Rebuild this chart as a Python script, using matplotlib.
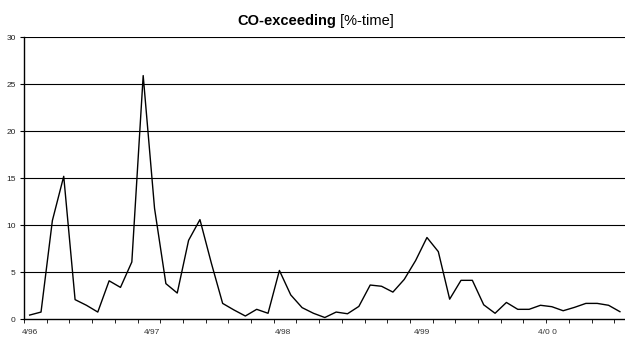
import numpy as np
import matplotlib.pyplot as plt

# CO exceeding, percent of time, one value per period
co_values = [0.46, 0.78, 10.5, 15.2, 2.1, 1.5, 0.78, 4.1, 3.4, 6.1,
             25.9, 11.8, 3.8, 2.8, 8.4, 10.6, 6.0, 1.7, 1.0, 0.36,
             1.07, 0.65, 5.2, 2.6, 1.25, 0.65, 0.2, 0.78, 0.6, 1.38,
             3.65, 3.52, 2.9, 4.25, 6.25, 8.7, 7.2, 2.15, 4.15, 4.15,
             1.55, 0.65, 1.8, 1.07, 1.07, 1.5, 1.35, 0.92, 1.28, 1.7,
             1.7, 1.5, 0.82]
label_text = ['4/96', '4/97', '4/98', '4/99', '4/0 0']
label_idx = [0, 10.8, 22.3, 34.6, 45.6]
y_ticks = [0, 5, 10, 15, 20, 25, 30]

plt.rcParams['font.family'] = ['Liberation Sans', 'DejaVu Sans']

fig = plt.figure(figsize=(6.25, 3.38), dpi=100)
ax = fig.add_axes([24 / 625, 18.6 / 338, 601.6 / 625, 282.4 / 338])

n = len(co_values)
x = np.arange(n)
ax.plot(x, co_values, color='black', lw=1.0, zorder=3)

ax.set_xlim(-0.5, n - 0.5)
ax.set_ylim(0, 30)

# horizontal gridlines
for v in y_ticks[1:]:
    ax.axhline(v, color='black', lw=0.8, zorder=1)

ax.set_yticks(y_ticks)
ax.set_yticklabels([str(v) for v in y_ticks], fontsize=6, color='#222222')
ax.tick_params(axis='y', direction='out', length=3, width=0.8, pad=3)

# tick marks at category boundaries, every second category
ax.set_xticks(np.arange(-0.5, n, 2))
ax.set_xticklabels([])
ax.tick_params(axis='x', which='major', direction='out', length=3, width=0.6)
ax.set_xticks(label_idx, minor=True)
ax.set_xticklabels(label_text, minor=True, fontsize=6, color='#333333')
ax.tick_params(axis='x', which='minor', length=0, pad=7)

for side in ['top', 'right']:
    ax.spines[side].set_visible(False)
ax.spines['left'].set_linewidth(1.0)
ax.spines['bottom'].set_linewidth(1.0)

fig.text(0.538, 0.938, 'CO-exceeding', fontsize=10.5, fontweight='bold',
         ha='right', va='center')
fig.text(0.538, 0.938, ' [%-time]', fontsize=10.5, ha='left', va='center')

fig.savefig('out.png', dpi=100)
